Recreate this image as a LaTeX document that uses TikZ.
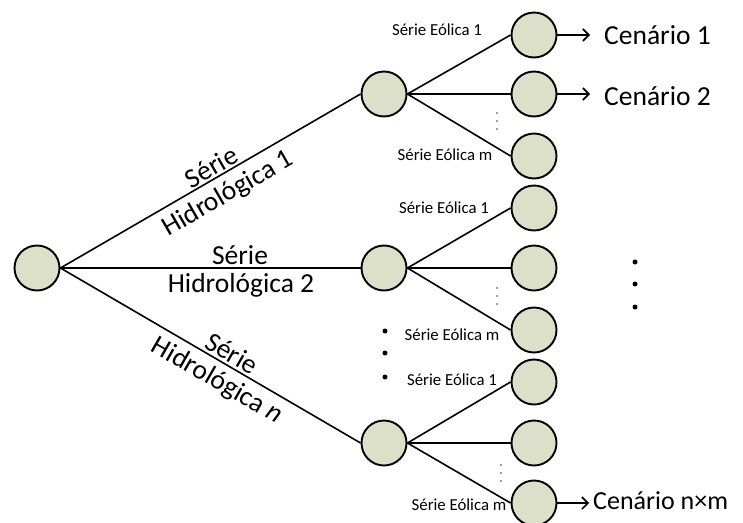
\documentclass[tikz,border=0pt]{standalone}
\usepackage{fontspec}
\setmainfont{Carlito}
\usetikzlibrary{arrows.meta}
\definecolor{nodefill}{RGB}{221,224,201}
\tikzset{
  st/.style={circle, draw=black, line width=1.9pt, fill=nodefill, minimum size=45pt, inner sep=0pt},
  br/.style={line width=1.6pt},
  big/.style={font=\fontsize{27.5}{30}\selectfont, inner sep=1pt},
  small/.style={font=\fontsize{16.8}{18}\selectfont, inner sep=0pt},
  arr/.style={line width=1.6pt, -{Straight Barb[length=6pt,width=12pt]}},
  blt/.style={circle, fill=black, inner sep=0pt, minimum size=5pt},
  sdot/.style={circle, fill=black!75, inner sep=0pt, minimum size=1.8pt}
}
\begin{document}
\begin{tikzpicture}[x=1pt,y=-1pt]
\useasboundingbox (0,0) rectangle (743,522);
% nodes
\node[st] (R) at (37,268) {};
\node[st] (M1) at (384,94) {};
\node[st] (M2) at (384,268) {};
\node[st] (M3) at (384,443) {};
\node[st] (L11) at (534,35) {};
\node[st] (L12) at (534,94) {};
\node[st] (L13) at (534,156) {};
\node[st] (L21) at (534,208) {};
\node[st] (L22) at (534,268) {};
\node[st] (L23) at (534,330) {};
\node[st] (L31) at (534,382) {};
\node[st] (L32) at (534,443) {};
\node[st] (L33) at (534,503) {};
% main branches
\draw[br] (R.east) -- (M1.west);
\draw[br] (R.east) -- (M2.west);
\draw[br] (R.east) -- (M3.west);
\node[big, rotate=30] (h1a) at (211,167) {Série};
\node[big, rotate=30] (h1b) at (228,194) {Hidrológica 1};
\node[big] (h2a) at (240,255) {Série};
\node[big] (h2b) at (241,285) {Hidrológica 2};
\node[big, rotate=-30] (h3a) at (232,353) {Série};
\node[big, rotate=-30] (h3b) at (217,381) {Hidrológica \textit{n}};
% sub branches
\foreach \m/\g in {M1/1, M2/2, M3/3}{
  \draw[br] (\m.east) -- (L\g1.west);
  \draw[br] (\m.east) -- (L\g2.west);
  \draw[br] (\m.east) -- (L\g3.west);
}
% small labels
\node[small] (e11) at (437,30) {Série Eólica 1};
\node[small] (e1m) at (445,155) {Série Eólica m};
\node[small] (e21) at (444,208) {Série Eólica 1};
\node[small] (e2m) at (452,335) {Série Eólica m};
\node[small] (e31) at (452,380) {Série Eólica 1};
\node[small] (e3m) at (459,505) {Série Eólica m};
% small vertical dots
\foreach \y in {113,121,129} \node[sdot] at (497,\y) {};
\foreach \y in {288,296,304} \node[sdot] at (497,\y) {};
\foreach \y in {465,473,481} \node[sdot] at (501,\y) {};
% bullets
\node[blt] (b1) at (385,331) {};
\node[blt] (b2) at (385,353) {};
\node[blt] (b3) at (385,377) {};
\node[blt] (r1) at (635,262) {};
\node[blt] (r2) at (635,284) {};
\node[blt] (r3) at (635,307) {};
% scenarios
\coordinate (a1) at (590,35);
\coordinate (a2) at (590,94);
\coordinate (a3) at (589,503);
\draw[arr] (L11.east) -- (a1);
\draw[arr] (L12.east) -- (a2);
\draw[arr] (L33.east) -- (a3);
\node[big, anchor=west] (c1) at (603,35) {Cenário 1};
\node[big, anchor=west] (c2) at (603,96) {Cenário 2};
\node[big, anchor=west, font=\fontsize{26}{28}\selectfont] (c3) at (592,501) {Cenário n×m};
\end{tikzpicture}
\end{document}
